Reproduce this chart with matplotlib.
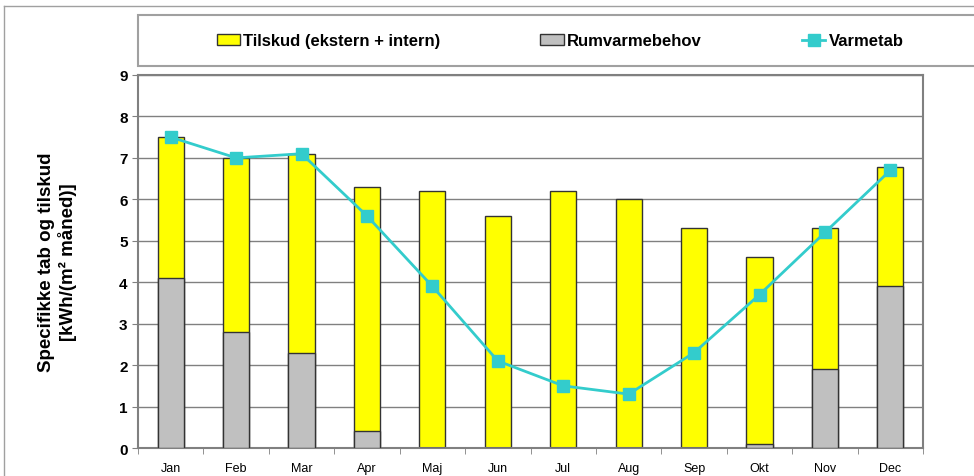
import numpy as np
import matplotlib
matplotlib.use("Agg")
import matplotlib.pyplot as plt
from matplotlib.patches import Rectangle
from matplotlib.lines import Line2D

months = ["Jan", "Feb", "Mar", "Apr", "Maj", "Jun", "Jul", "Aug", "Sep", "Okt", "Nov", "Dec"]
tilskud = [7.5, 7.0, 7.1, 6.3, 6.2, 5.6, 6.2, 6.0, 5.3, 4.6, 5.3, 6.78]
rumvarme = [4.1, 2.8, 2.3, 0.4, 0.0, 0.0, 0.0, 0.0, 0.0, 0.1, 1.9, 3.9]
varmetab = [7.5, 7.0, 7.1, 5.6, 3.9, 2.1, 1.5, 1.3, 2.3, 3.7, 5.2, 6.7]

plt.rcParams['font.family'] = ['Liberation Sans', 'DejaVu Sans']

fig = plt.figure(figsize=(9.74, 4.77), dpi=100)
ax = fig.add_axes([0.1417, 0.0587, 0.806, 0.782])

x = np.arange(len(months))
b1 = ax.bar(x, tilskud, width=0.4, color='#FFFF00', edgecolor='#333333', linewidth=1, zorder=2,
            label='Tilskud (ekstern + intern)')
b2 = ax.bar(x, rumvarme, width=0.4, color='#C0C0C0', edgecolor='#333333', linewidth=1, zorder=3,
            label='Rumvarmebehov')
l1, = ax.plot(x, varmetab, '-s', color='#33CCCC', linewidth=2, markersize=8.5, zorder=4,
              label='Varmetab')

ax.set_xlim(-0.5, 11.5)
ax.set_ylim(0, 9)
ax.set_yticks(range(0, 10))
ax.set_xticks(x)
ax.set_xticklabels(months, fontsize=9, family=['Liberation Sans Narrow', 'Liberation Sans'])
ax.set_xticks(np.arange(-0.5, 12, 1), minor=True)
ax.tick_params(axis='x', which='major', length=0, pad=10)
ax.tick_params(axis='x', which='minor', length=4, color='#808080', direction='out')
ax.tick_params(axis='y', length=4, color='#808080', labelsize=11)
for t in ax.get_yticklabels():
    t.set_fontweight('bold')
ax.grid(axis='y', color='#808080', linewidth=1, zorder=0)
ax.set_axisbelow(True)
for s in ax.spines.values():
    s.set_color('#808080')
    s.set_linewidth(1.5)

ax.set_ylabel('Specifikke tab og tilskud\n[kWh/(m² måned)]', fontsize=13.5, fontweight='bold',
              labelpad=30)

# legend box
fig.patches.append(Rectangle((0.1417, 0.8595), 0.87, 0.107, transform=fig.transFigure,
                             facecolor='white', edgecolor='#A0A0A0', linewidth=1.5))
fig.legend(handles=[b1, b2, l1], loc='center', bbox_to_anchor=(0.575, 0.912), ncol=3,
           frameon=False, prop={'weight': 'bold', 'size': 12}, columnspacing=6,
           handlelength=1.4, handletextpad=0.2)

# outer frame
fig.add_artist(Line2D([0.004, 0.004], [0, 0.985], transform=fig.transFigure, color='#A0A0A0', linewidth=1))
fig.add_artist(Line2D([0.004, 1], [0.985, 0.985], transform=fig.transFigure, color='#A0A0A0', linewidth=1))

plt.savefig("out.png", dpi=100)
